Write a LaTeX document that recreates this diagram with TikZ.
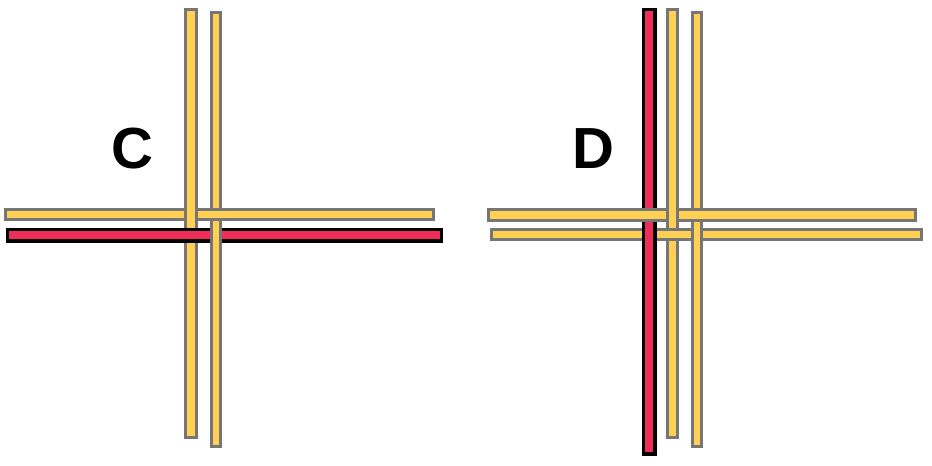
\documentclass[tikz,border=0pt]{standalone}
\usepackage{fontspec}
\setmainfont{Liberation Sans}
\definecolor{yel}{RGB}{255,208,84}
\definecolor{rd}{RGB}{240,44,88}
\definecolor{gry}{RGB}{118,118,118}
\begin{document}
\begin{tikzpicture}[x=1pt,y=-1pt,
  ybar/.style={fill=yel,draw=gry,line width=3pt},
  rbar/.style={fill=rd,draw=black,line width=3.2pt},
  lab/.style={font=\fontsize{58}{58}\selectfont\bfseries,inner sep=0pt}]
\useasboundingbox (0,0) rectangle (932,466);
% ---------- C ----------
\draw[rbar] (7.5,229.5) rectangle (441.5,241);
\draw[ybar] (211.5,12.5) rectangle (220.5,446.5);
\draw[ybar] (5.5,209.5) rectangle (433.5,219.5);
\draw[ybar] (185.5,9.5) rectangle (196,437.5);
% red over left vertical
\begin{scope}
  \clip (182,225) rectangle (199,245);
  \draw[rbar] (7.5,229.5) rectangle (441.5,241);
\end{scope}
\node[lab] (labC) at (132,149) {C};
% ---------- D ----------
\draw[rbar] (643.5,9.5) rectangle (655,454);
\draw[ybar] (667.5,9.5) rectangle (677.5,437.5);
\draw[ybar] (692.5,12.5) rectangle (701.5,446.5);
\draw[ybar] (488.5,209.5) rectangle (915.5,220);
\draw[ybar] (491.5,229.5) rectangle (921.5,239.5);
% V1 over top horizontal
\begin{scope}
  \clip (664,206) rectangle (681,224);
  \draw[ybar] (667.5,9.5) rectangle (677.5,437.5);
\end{scope}
% red over bottom horizontal
\begin{scope}
  \clip (640,226) rectangle (659,243);
  \draw[rbar] (643.5,9.5) rectangle (655,454);
\end{scope}
% V2 over bottom horizontal
\begin{scope}
  \clip (689,226) rectangle (705,243);
  \draw[ybar] (692.5,12.5) rectangle (701.5,446.5);
\end{scope}
\node[lab] (labD) at (593,149) {D};
\end{tikzpicture}
\end{document}
